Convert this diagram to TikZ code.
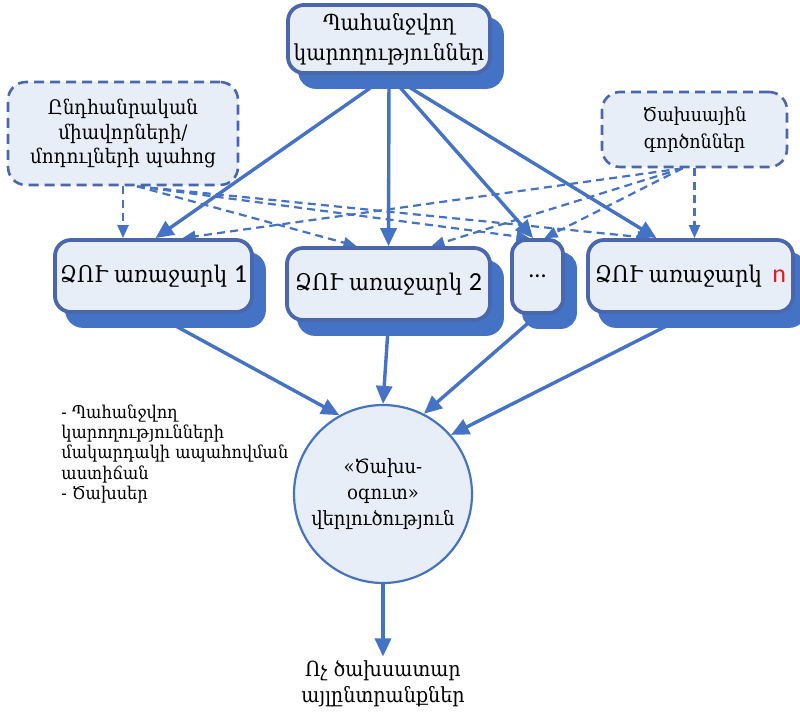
\documentclass[tikz,border=0pt]{standalone}
\usepackage{fontspec}
\setmainfont[FakeStretch=0.92]{DejaVu Serif}
\newfontfamily\numfont{Carlito}
\usetikzlibrary{shadows,arrows.meta,backgrounds}
\definecolor{lineblue}{HTML}{4472C4}
\definecolor{edgeblue}{HTML}{4A66AC}
\definecolor{paleblue}{HTML}{E8EEF8}
\definecolor{numred}{HTML}{E8191E}

\begin{document}
\begin{tikzpicture}[x=0.5pt,y=-0.5pt,
  optbox/.style={draw=edgeblue, line width=1.9pt, fill=paleblue,
    rounded corners=8pt, align=center, inner sep=0pt,
    copy shadow={shadow xshift=6pt, shadow yshift=-7pt,
      fill=lineblue, draw=lineblue}},
  srcbox/.style={draw=edgeblue, line width=1.3pt, fill=paleblue,
    dash pattern=on 5pt off 3pt, rounded corners=9pt,
    align=center, inner sep=0pt},
  hubcircle/.style={circle, draw=lineblue, line width=1.1pt,
    fill=paleblue, minimum size=89pt, inner sep=0pt, align=center},
  mainarrow/.style={draw=lineblue, line width=1.7pt,
    -{Triangle[length=9pt,width=8pt]}},
  factorarrow/.style={draw=lineblue, line width=1.1pt,
    dash pattern=on 4pt off 2.6pt, -{Triangle[length=6.5pt,width=5.5pt]}},
  plaintext/.style={align=center, inner sep=0pt}
]
\useasboundingbox (0,0) rectangle (800,713);

% capability requirements and the two dashed source boxes
\node[optbox, minimum width=101pt, minimum height=34pt,
  font=\fontsize{11}{15}\selectfont] (t) at (389,39)
  {Պահանջվող\\կարողություններ};
\node[srcbox, minimum width=115pt, minimum height=51.5pt,
  font=\fontsize{10}{12.2}\selectfont] (lb) at (123,133.5)
  {Ընդհանրական\\միավորների/\\մոդուլների պահոց};
\node[srcbox, minimum width=92.5pt, minimum height=37.5pt,
  font=\fontsize{9.5}{13.5}\selectfont] (rb) at (694.5,129.5)
  {Ծախսային\\գործոններ};

% design proposals
\node[optbox, minimum width=98.5pt, minimum height=36pt,
  font=\fontsize{11.5}{14}\selectfont] (b1) at (153.5,276)
  {ՁՈՒ առաջարկ {\numfont\fontsize{13}{14}\selectfont 1}};
\node[optbox, minimum width=101.5pt, minimum height=36pt,
  font=\fontsize{11.5}{14}\selectfont] (b2) at (388.5,284)
  {ՁՈՒ առաջարկ {\numfont\fontsize{13}{14}\selectfont 2}};
\node[optbox, minimum width=25.5pt, minimum height=36.5pt,
  rounded corners=7pt, font=\numfont\fontsize{12}{14}\selectfont]
  (dots) at (537.5,276.5) {...};
\node[optbox, minimum width=102.5pt, minimum height=36pt,
  font=\fontsize{11.5}{14}\selectfont] (bn) at (690.5,276)
  {ՁՈՒ առաջարկ \,{\numfont\fontsize{13}{14}\selectfont\color{numred}n}};

% cost-benefit analysis and its result
\node[hubcircle, font=\fontsize{9.8}{13}\selectfont] (c) at (383,494)
  {«Ծախս-\\օգուտ»\\վերլուծություն};
\node[plaintext, font=\fontsize{10.4}{13}\selectfont] (res) at (383,684)
  {Ոչ ծախսատար\\այլընտրանքներ};
\node[align=left, inner sep=0pt, anchor=north west,
  font=\fontsize{8.8}{10.2}\selectfont] (note) at (61,404)
  {- Պահանջվող\\կարողությունների\\մակարդակի ապահովման\\աստիճան\\- Ծախսեր};

\begin{scope}[on background layer]
  % requirements feed every proposal
  \draw[mainarrow] (t.south) -- ([xshift=1pt]b1.north);
  \draw[mainarrow] (t.south) -- (b2.north);
  \draw[mainarrow] (t.south) -- ([xshift=-2.2pt]dots.north);
  \draw[mainarrow] (t.south) -- ([xshift=-17pt]bn.north);
  % module library links
  \draw[factorarrow] (lb.south) -- (lb.south |- b1.north);
  \draw[factorarrow] ([xshift=7pt]lb.south) -- ([xshift=-16pt]b2.north);
  \draw[factorarrow] ([xshift=7pt]lb.south) -- ([xshift=-4pt]dots.north);
  \draw[factorarrow] ([xshift=7pt]lb.south) -- ([xshift=-20pt]bn.north);
  % cost factor links
  \draw[factorarrow] (rb.south) -- (rb.south |- bn.north);
  \draw[factorarrow] ([xshift=-6pt]rb.south) -- ([xshift=14.5pt]b1.north);
  \draw[factorarrow] ([xshift=-6pt]rb.south) -- ([xshift=21.5pt]b2.north);
  \draw[factorarrow] ([xshift=-6pt]rb.south) -- ([xshift=3.5pt]dots.north);
  % proposals into the analysis
  \draw[mainarrow] (b1.south) -- (c.119);
  \draw[mainarrow] (b2.south) -- (c.north);
  \draw[mainarrow] (dots.south) -- (c.63);
  \draw[mainarrow] (bn.south) -- (c.41);
  \draw[mainarrow] (c.south) -- ([yshift=2pt]res.north);
\end{scope}
\end{tikzpicture}
\end{document}
